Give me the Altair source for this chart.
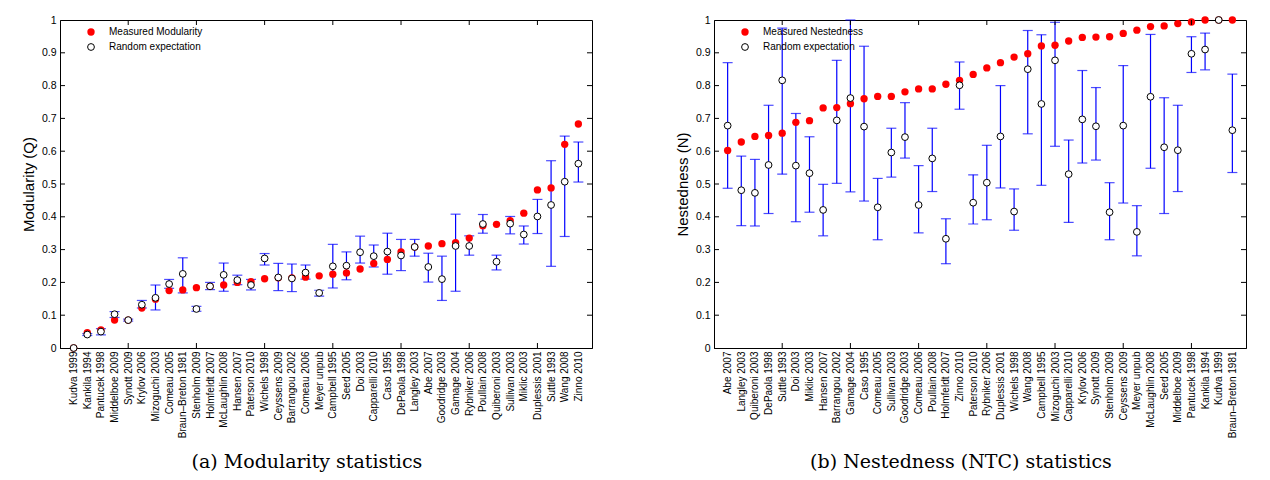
import json
import altair as alt
import pandas as pd

# ---------------- (a) Modularity ----------------
mod_names = ["Kudva 1999", "Kankila 1994", "Pantucek 1998", "Middelboe 2009", "Synott 2009",
             "Krylov 2006", "Mizoguchi 2003", "Comeau 2005", "Braun\u2013Breton 1981", "Stenholm 2009",
             "Holmfeldt 2007", "McLaughlin 2008", "Hansen 2007", "Paterson 2010", "Wichels 1998",
             "Ceyssens 2009", "Barrangou 2002", "Comeau 2006", "Meyer unpub", "Campbell 1995",
             "Seed 2005", "Doi 2003", "Capparelli 2010", "Caso 1995", "DePaola 1998",
             "Langley 2003", "Abe 2007", "Goodridge 2003", "Gamage 2004", "Rybniker 2006",
             "Poullain 2008", "Quiberoni 2003", "Sullivan 2003", "Miklic 2003", "Duplessis 2001",
             "Suttle 1993", "Wang 2008", "Zinno 2010"]
mod_measured = [0.0, 0.047, 0.055, 0.085, 0.085, 0.122, 0.149, 0.175, 0.177, 0.184,
                0.188, 0.192, 0.200, 0.202, 0.211, 0.214, 0.214, 0.216, 0.220, 0.225,
                0.229, 0.241, 0.258, 0.270, 0.293, 0.308, 0.311, 0.318, 0.321, 0.335,
                0.373, 0.377, 0.388, 0.411, 0.482, 0.488, 0.621, 0.683]
mod_random = [0.0, 0.041, 0.050, 0.103, 0.085, 0.132, 0.153, 0.195, 0.226, 0.119,
              0.188, 0.223, 0.207, 0.192, 0.273, 0.215, 0.212, 0.230, 0.168, 0.249,
              0.251, 0.292, 0.280, 0.294, 0.282, 0.308, 0.247, 0.210, 0.311, 0.311,
              0.378, 0.263, 0.379, 0.346, 0.401, 0.436, 0.507, 0.562]
mod_lo = [None, 0.038, 0.040, 0.093, 0.082, 0.122, 0.116, 0.182, 0.168, 0.112,
          0.178, 0.173, 0.193, 0.177, 0.253, 0.175, 0.172, 0.210, 0.158, 0.183,
          0.208, 0.259, 0.247, 0.225, 0.236, 0.280, 0.201, 0.145, 0.173, 0.283,
          0.350, 0.238, 0.348, 0.317, 0.349, 0.249, 0.340, 0.506]
mod_hi = [None, 0.044, 0.059, 0.111, 0.088, 0.145, 0.192, 0.209, 0.275, 0.127,
          0.200, 0.259, 0.222, 0.209, 0.288, 0.258, 0.256, 0.253, 0.176, 0.316,
          0.293, 0.341, 0.314, 0.350, 0.331, 0.331, 0.289, 0.280, 0.408, 0.342,
          0.407, 0.283, 0.401, 0.372, 0.453, 0.571, 0.646, 0.628]

# ---------------- (b) Nestedness ----------------
nest_names = ["Abe 2007", "Langley 2003", "Quiberoni 2003", "DePaola 1998", "Suttle 1993",
              "Doi 2003", "Miklic 2003", "Hansen 2007", "Barrangou 2002", "Gamage 2004",
              "Caso 1995", "Comeau 2005", "Sullivan 2003", "Goodridge 2003", "Comeau 2006",
              "Poullain 2008", "Holmfeldt 2007", "Zinno 2010", "Paterson 2010", "Rybniker 2006",
              "Duplessis 2001", "Wichels 1998", "Wang 2008", "Campbell 1995", "Mizoguchi 2003",
              "Capparelli 2010", "Krylov 2006", "Synott 2009", "Stenholm 2009", "Ceyssens 2009",
              "Meyer unpub", "McLaughlin 2008", "Seed 2005", "Middelboe 2009", "Pantucek 1998",
              "Kankila 1994", "Kudva 1999", "Braun\u2013Breton 1981"]
nest_measured = [0.602, 0.628, 0.645, 0.648, 0.655, 0.688, 0.693, 0.732, 0.733, 0.745,
                 0.760, 0.767, 0.767, 0.781, 0.790, 0.790, 0.804, 0.816, 0.834, 0.854,
                 0.870, 0.887, 0.897, 0.921, 0.923, 0.936, 0.947, 0.948, 0.949, 0.959,
                 0.969, 0.980, 0.982, 0.989, 0.994, 1.0, 1.0, 1.0]
nest_random = [0.678, 0.481, 0.473, 0.558, 0.816, 0.556, 0.533, 0.421, 0.694, 0.762,
               0.675, 0.429, 0.596, 0.643, 0.436, 0.578, 0.333, 0.801, 0.443, 0.504,
               0.645, 0.416, 0.850, 0.744, 0.877, 0.530, 0.697, 0.676, 0.414, 0.678,
               0.354, 0.766, 0.612, 0.603, 0.897, 0.910, 1.0, 0.664]
nest_lo = [0.487, 0.373, 0.372, 0.410, 0.530, 0.385, 0.414, 0.342, 0.502, 0.476,
           0.448, 0.330, 0.521, 0.579, 0.351, 0.477, 0.257, 0.728, 0.378, 0.391,
           0.488, 0.359, 0.653, 0.496, 0.615, 0.383, 0.564, 0.573, 0.330, 0.442,
           0.281, 0.548, 0.410, 0.477, 0.840, 0.848, None, 0.535]
nest_hi = [0.870, 0.585, 0.575, 0.740, 0.975, 0.715, 0.644, 0.499, 0.877, 1.0,
           0.920, 0.517, 0.670, 0.748, 0.556, 0.670, 0.394, 0.872, 0.528, 0.618,
           0.800, 0.485, 0.968, 0.955, 0.993, 0.634, 0.846, 0.794, 0.504, 0.861,
           0.434, 0.956, 0.763, 0.740, 0.949, 0.960, None, 0.835]

y_ticks = [round(0.1 * i, 1) for i in range(0, 11)]
x_major = [5, 10, 15, 20, 25, 30, 35]

W, H = 532, 328
SANS = "Liberation Sans"
SERIF = "DejaVu Serif"
RED = "#ff0000"
BLUE = "#0000ff"


def panel(names, measured, random_, lo, hi, ytitle, legend_label, caption):
    n = len(names)
    df = pd.DataFrame({"idx": list(range(1, n + 1)), "name": names,
                       "measured": measured, "random": random_, "lo": lo, "hi": hi})
    xscale = alt.Scale(domain=[0, n + 1], nice=False, zero=False)
    yscale = alt.Scale(domain=[0, 1], nice=False, zero=False)
    label_expr = "[" + ",".join(json.dumps(s) for s in names) + "][datum.value - 1]"

    x_axis = alt.Axis(values=list(range(1, n + 1)), labelExpr=label_expr, labelAngle=270,
                      tickSize=0, labelPadding=3, title=None, grid=False, labelOverlap=False,
                      labelFlush=False, labelFont=SANS, labelFontSize=10, labelColor="black",
                      domainColor="black")
    y_axis = alt.Axis(values=y_ticks, format="~g", tickSize=0, labelPadding=4, grid=False,
                      labelFont=SANS, labelFontSize=10.5, labelColor="black",
                      labelFlush=False, labelOverlap=False, domainColor="black",
                      title=ytitle, titleFont=SANS, titleFontSize=15, titleFontWeight="normal",
                      titleColor="black", titlePadding=5)

    def X(f):
        return alt.X(f, scale=xscale, axis=x_axis, title=None)

    def Y(f):
        return alt.Y(f, scale=yscale, axis=y_axis, title=ytitle)

    base = alt.Chart(df)
    err = base.transform_filter("isValid(datum.lo)")
    bars = err.mark_rule(color=BLUE, strokeWidth=1.2).encode(
        x=X("idx:Q"), y=Y("lo:Q"), y2="hi:Q")
    cap_lo = err.mark_tick(color=BLUE, orient="horizontal", size=10, thickness=1.2).encode(
        x=X("idx:Q"), y=Y("lo:Q"))
    cap_hi = err.mark_tick(color=BLUE, orient="horizontal", size=10, thickness=1.2).encode(
        x=X("idx:Q"), y=Y("hi:Q"))
    meas = base.mark_circle(color=RED, opacity=1, size=54).encode(
        x=X("idx:Q"), y=Y("measured:Q"))
    rand = base.mark_point(shape="circle", filled=False, fill="white", fillOpacity=1,
                           stroke="black", strokeWidth=1, opacity=1, size=46).encode(
        x=X("idx:Q"), y=Y("random:Q"))

    # inward box ticks
    xt = alt.Chart(pd.DataFrame({"v": x_major}))
    yt = alt.Chart(pd.DataFrame({"v": [t for t in y_ticks if 0 < t < 1]}))
    tk = dict(color="black", strokeWidth=1)
    xb = xt.mark_rule(**tk).encode(x=X("v:Q"), y=alt.value(H), y2=alt.value(H - 5))
    xtp = xt.mark_rule(**tk).encode(x=X("v:Q"), y=alt.value(0), y2=alt.value(5))
    yl = yt.mark_rule(**tk).encode(y=Y("v:Q"), x=alt.value(0), x2=alt.value(5))
    yr = yt.mark_rule(**tk).encode(y=Y("v:Q"), x=alt.value(W - 5), x2=alt.value(W))

    # legend (inside the box, top-left)
    leg1 = alt.Chart(pd.DataFrame({"label": [legend_label]}))
    leg2 = alt.Chart(pd.DataFrame({"label": ["Random expectation"]}))
    leg_dot = leg1.mark_circle(color=RED, opacity=1, size=54).encode(
        x=alt.value(31), y=alt.value(12))
    leg_circ = leg2.mark_point(
        shape="circle", filled=False, fill="white", fillOpacity=1, stroke="black",
        strokeWidth=1, opacity=1, size=46).encode(x=alt.value(31), y=alt.value(27))
    txt = dict(align="left", baseline="middle", font=SANS, fontSize=10, color="black")
    leg_t1 = leg1.mark_text(**txt).encode(x=alt.value(49), y=alt.value(12), text="label:N")
    leg_t2 = leg2.mark_text(**txt).encode(x=alt.value(49), y=alt.value(27), text="label:N")

    layered = alt.layer(bars, cap_lo, cap_hi, meas, rand, xb, xtp, yl, yr,
                        leg_dot, leg_circ, leg_t1, leg_t2)
    return layered.properties(
        width=W, height=H,
        title=alt.TitleParams(caption, orient="bottom", font=SERIF, fontSize=19,
                              fontWeight="normal", color="black", anchor="middle",
                              frame="bounds", offset=15))


left = panel(mod_names, mod_measured, mod_random, mod_lo, mod_hi,
             "Modularity (Q)", "Measured Modularity", "(a) Modularity statistics")
right = panel(nest_names, nest_measured, nest_random, nest_lo, nest_hi,
              "Nestedness (N)", "Measured Nestedness", "(b) Nestedness (NTC) statistics")

chart = alt.hconcat(left, right, spacing=81).configure_view(
    stroke="black", strokeWidth=1).properties(
    padding={"left": 12, "top": 6, "right": 5, "bottom": 5}, background="white")

chart.save("out.html", embed_options={"renderer": "svg", "actions": False})
